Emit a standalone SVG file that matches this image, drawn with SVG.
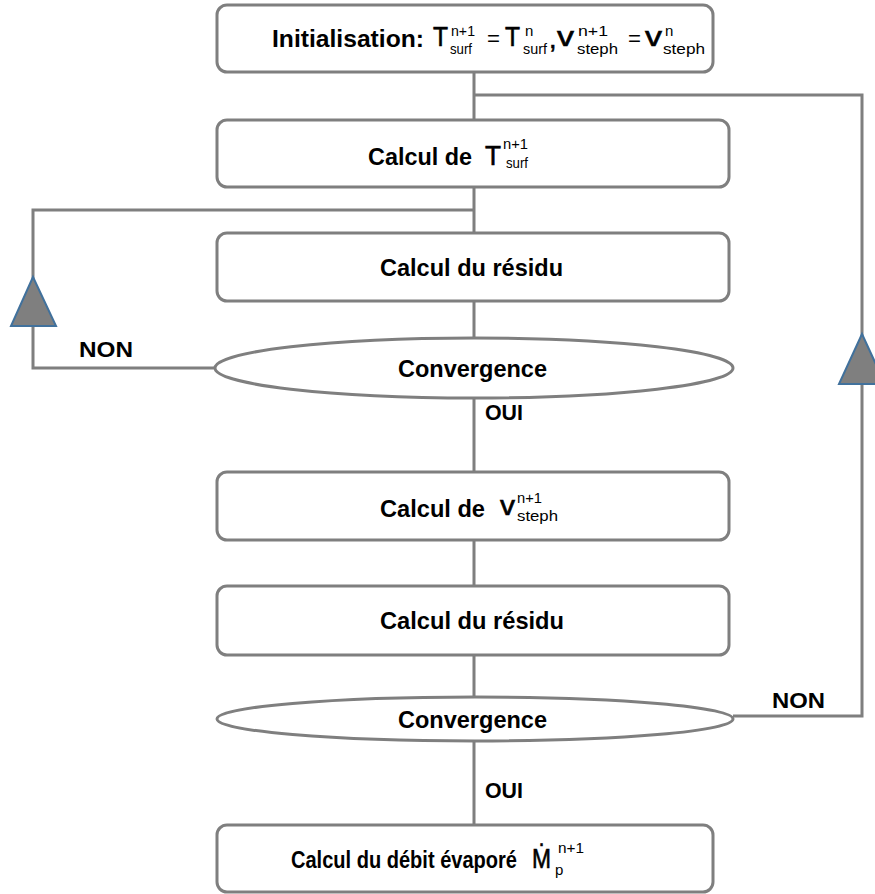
<svg xmlns="http://www.w3.org/2000/svg" width="875" height="894" viewBox="0 0 875 894">
<style>
.box{fill:#fff;stroke:#7f7f7f;stroke-width:3}
.ln{fill:none;stroke:#7f7f7f;stroke-width:3}
.arr{fill:#7f7f7f;stroke:#41719c;stroke-width:2;stroke-linejoin:miter}
text{font-family:"Liberation Sans",Arial,sans-serif;fill:#000}
.t{font-size:24px;font-weight:bold}
.lb{font-size:22px;font-weight:bold}
.m{font-size:27px;font-weight:normal;stroke:#000;stroke-width:0.6}
.e{font-size:22px;font-weight:normal}
.s{font-size:15px;font-weight:normal}
</style>
<rect width="875" height="894" fill="#fff"/>
<g id="connectors">
<path class="ln" d="M474 72V120M474 187V233M474 301V338M474 398V472M474 540V586M474 655V697M474 741V825"/>
<path class="ln" d="M474 95H862V716H733"/>
<path class="ln" d="M474 210H33V368H215"/>
<polygon class="arr" points="33,277 11,326 56,326"/>
<polygon class="arr" points="862,334 839,384 885,384"/>
<text class="lb" x="79" y="357" textLength="54" lengthAdjust="spacingAndGlyphs">NON</text>
<text class="lb" x="772" y="708" textLength="53" lengthAdjust="spacingAndGlyphs">NON</text>
<text class="lb" x="485" y="420" textLength="38" lengthAdjust="spacingAndGlyphs">OUI</text>
<text class="lb" x="485" y="798" textLength="38" lengthAdjust="spacingAndGlyphs">OUI</text>
</g>
<g id="init">
<rect class="box" x="217" y="5" width="496" height="67" rx="10"/>
<text class="t" x="272" y="47" textLength="152" lengthAdjust="spacingAndGlyphs">Initialisation:</text>
<text class="m" x="433" y="46" textLength="15" lengthAdjust="spacingAndGlyphs">T</text>
<text class="s" x="451" y="36" textLength="24" lengthAdjust="spacingAndGlyphs">n+1</text>
<text class="s" x="450" y="54" textLength="22" lengthAdjust="spacingAndGlyphs">surf</text>
<text class="e" x="487" y="46" textLength="13" lengthAdjust="spacingAndGlyphs">=</text>
<text class="m" x="505" y="46" textLength="15" lengthAdjust="spacingAndGlyphs">T</text>
<text class="s" x="525" y="36">n</text>
<text class="s" x="523" y="54" textLength="24" lengthAdjust="spacingAndGlyphs">surf</text>
<text class="m" x="549" y="48">,</text>
<text class="m" x="557" y="46" textLength="17" lengthAdjust="spacingAndGlyphs">v</text>
<text class="s" x="578" y="36" textLength="30" lengthAdjust="spacingAndGlyphs">n+1</text>
<text class="s" x="577" y="54" textLength="41" lengthAdjust="spacingAndGlyphs">steph</text>
<text class="e" x="628" y="46" textLength="13" lengthAdjust="spacingAndGlyphs">=</text>
<text class="m" x="645" y="46" textLength="17" lengthAdjust="spacingAndGlyphs">v</text>
<text class="s" x="665" y="36">n</text>
<text class="s" x="663" y="54" textLength="42" lengthAdjust="spacingAndGlyphs">steph</text>
</g>
<g id="calc-t">
<rect class="box" x="217" y="120" width="512" height="67" rx="10"/>
<text class="t" x="368" y="165" textLength="104" lengthAdjust="spacingAndGlyphs">Calcul de</text>
<text class="m" x="485" y="165" textLength="16" lengthAdjust="spacingAndGlyphs">T</text>
<text class="s" x="503" y="149" textLength="25" lengthAdjust="spacingAndGlyphs">n+1</text>
<text class="s" x="506" y="168" textLength="22" lengthAdjust="spacingAndGlyphs">surf</text>
</g>
<g id="residu1">
<rect class="box" x="217" y="233" width="512" height="68" rx="10"/>
<text class="t" x="380" y="276" textLength="183" lengthAdjust="spacingAndGlyphs">Calcul du résidu</text>
</g>
<g id="conv1">
<ellipse class="box" cx="474" cy="368" rx="259" ry="30"/>
<text class="t" x="398" y="377" textLength="149" lengthAdjust="spacingAndGlyphs">Convergence</text>
</g>
<g id="calc-v">
<rect class="box" x="217" y="472" width="512" height="68" rx="10"/>
<text class="t" x="380" y="517" textLength="105" lengthAdjust="spacingAndGlyphs">Calcul de</text>
<text class="m" x="500" y="515" textLength="15" lengthAdjust="spacingAndGlyphs">v</text>
<text class="s" x="517" y="503" textLength="25" lengthAdjust="spacingAndGlyphs">n+1</text>
<text class="s" x="517" y="521" textLength="41" lengthAdjust="spacingAndGlyphs">steph</text>
</g>
<g id="residu2">
<rect class="box" x="217" y="586" width="512" height="69" rx="10"/>
<text class="t" x="380" y="629" textLength="184" lengthAdjust="spacingAndGlyphs">Calcul du résidu</text>
</g>
<g id="conv2">
<ellipse class="box" cx="475" cy="719" rx="258" ry="22"/>
<text class="t" x="398" y="728" textLength="149" lengthAdjust="spacingAndGlyphs">Convergence</text>
</g>
<g id="debit">
<rect class="box" x="217" y="825" width="496" height="67" rx="10"/>
<text class="t" x="291" y="868" textLength="226" lengthAdjust="spacingAndGlyphs">Calcul du débit évaporé</text>
<text class="m" x="532" y="868" textLength="19" lengthAdjust="spacingAndGlyphs">Ṁ</text>
<text class="s" x="558" y="853" textLength="26" lengthAdjust="spacingAndGlyphs">n+1</text>
<text class="s" x="555" y="875">p</text>
</g>
</svg>
